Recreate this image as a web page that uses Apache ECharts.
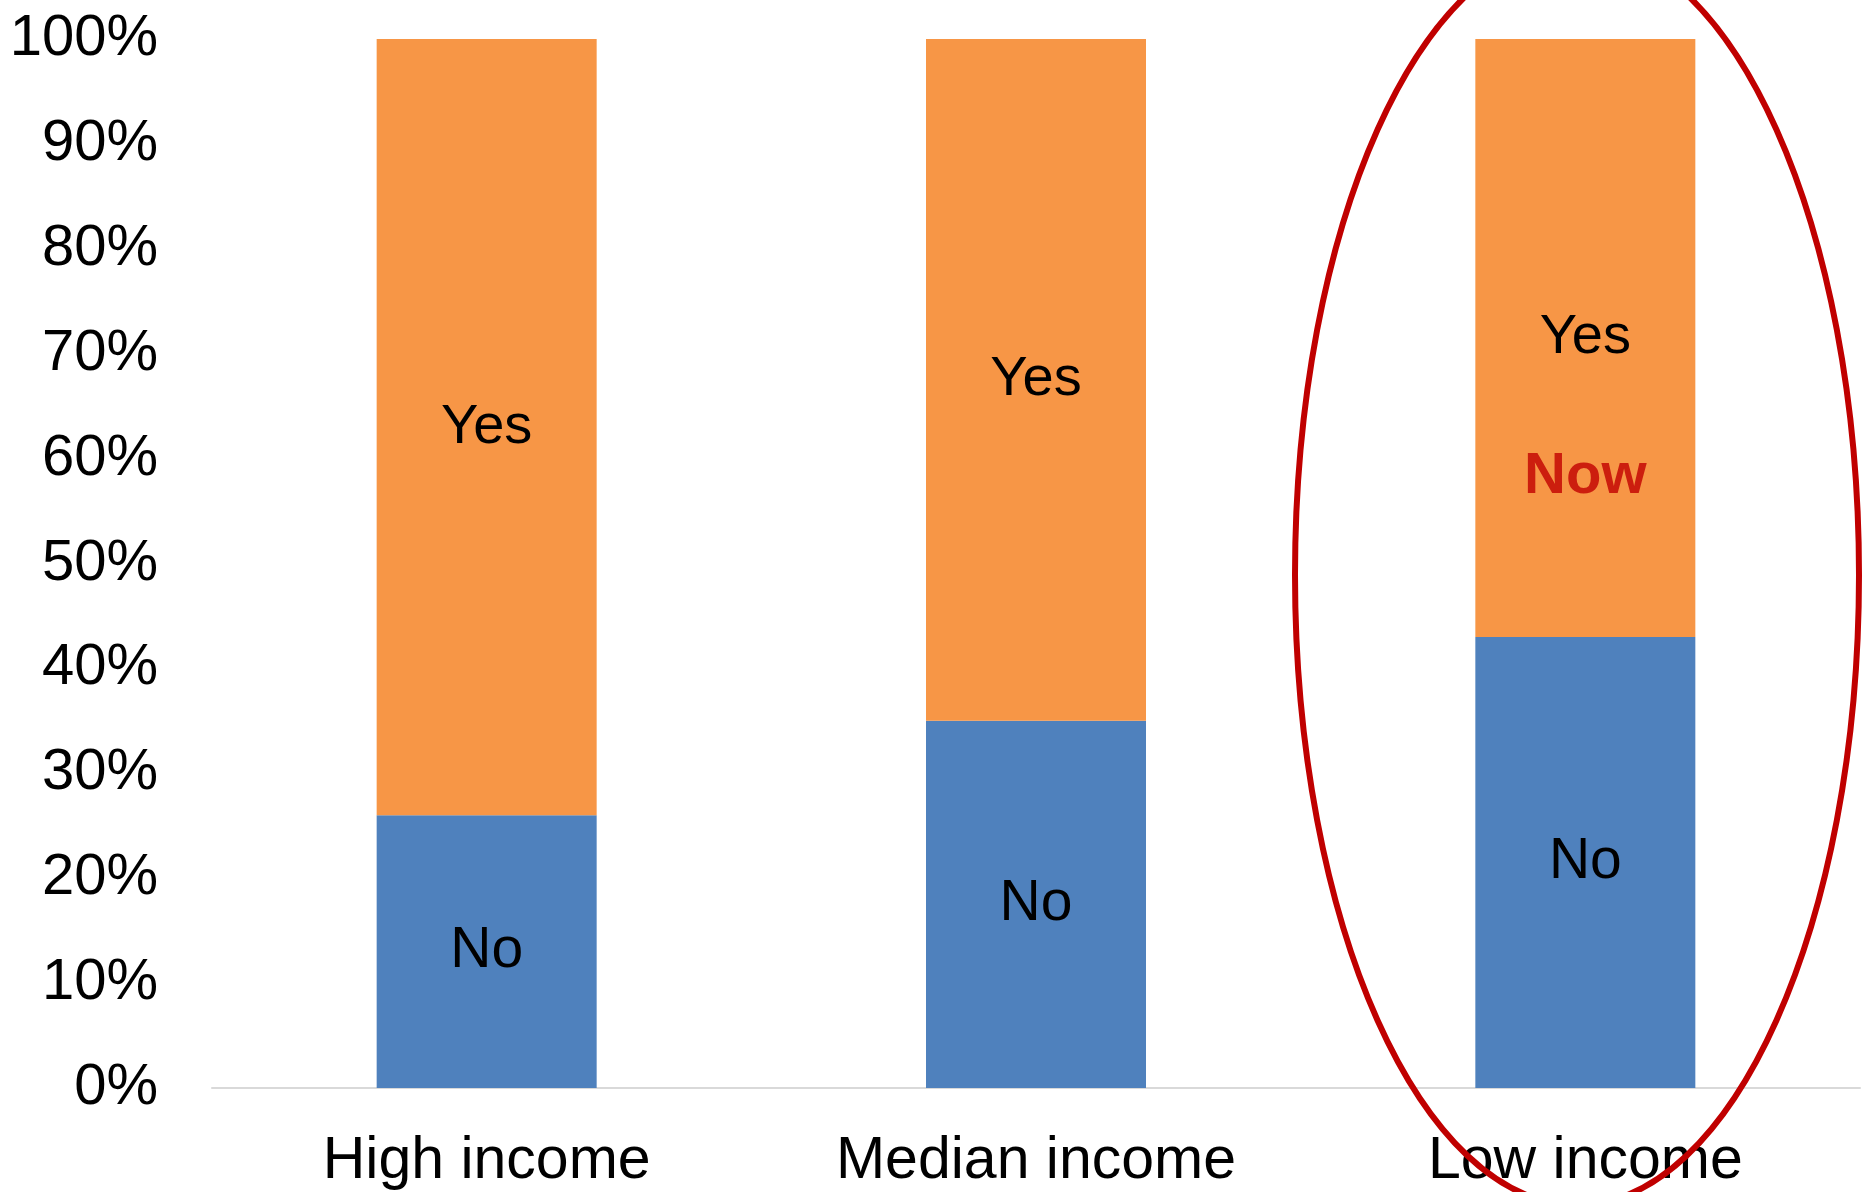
<!DOCTYPE html>
<html>
<head>
<meta charset="utf-8">
<script src="https://cdn.jsdelivr.net/npm/echarts@6/dist/echarts.min.js"></script>
<style>
html,body{margin:0;padding:0;background:#fff;}
#chart{width:1872px;height:1192px;}
</style>
</head>
<body>
<div id="chart"></div>
<script>
var categories = ['High income', 'Median income', 'Low income'];
var noValues = [26, 35, 43];
var yesValues = [74, 65, 57];
var yTicks = [0, 10, 20, 30, 40, 50, 60, 70, 80, 90, 100];
var nowNote = { category: 'Low income', value: 58.2, text: 'Now' };

var chart = echarts.init(document.getElementById('chart'));
var font = '"Liberation Sans", Arial, sans-serif';
chart.setOption({
  animation: false,
  backgroundColor: '#ffffff',
  grid: { left: 212, right: 12, top: 39, bottom: 104, containLabel: false },
  xAxis: {
    type: 'category',
    data: categories,
    axisLine: { show: true, lineStyle: { color: '#D9D9D9', width: 2 } },
    axisTick: { show: false },
    axisLabel: { color: '#000', fontSize: 59, fontFamily: font, margin: 44 }
  },
  yAxis: {
    type: 'value',
    min: yTicks[0],
    max: yTicks[yTicks.length - 1],
    interval: 10,
    splitLine: { show: false },
    axisLine: { show: false },
    axisTick: { show: false },
    axisLabel: { color: '#000', fontSize: 58, fontFamily: font, margin: 54, formatter: '{value}%' }
  },
  series: [
    {
      name: 'No', type: 'bar', stack: 'total', data: noValues, barWidth: 220,
      itemStyle: { color: '#4F81BD' },
      label: { show: true, position: 'inside', formatter: 'No', color: '#000', fontSize: 57, fontFamily: font }
    },
    {
      name: 'Yes', type: 'bar', stack: 'total', data: yesValues, barWidth: 220,
      itemStyle: { color: '#F79646' },
      label: { show: true, position: 'inside', formatter: 'Yes', color: '#000', fontSize: 56, fontFamily: font }
    },
    {
      name: 'Note', type: 'scatter', symbolSize: 0, z: 10,
      data: [[nowNote.category, nowNote.value]],
      label: { show: true, position: 'inside', formatter: nowNote.text, color: '#C00000', fontSize: 58, fontWeight: 'bold', fontFamily: font }
    }
  ],
  graphic: [
    {
      type: 'ellipse', z: 100,
      shape: { cx: 1577, cy: 575, rx: 282, ry: 630 },
      style: { fill: 'none', stroke: '#C00000', lineWidth: 6 }
    }
  ]
});
</script>
</body>
</html>
